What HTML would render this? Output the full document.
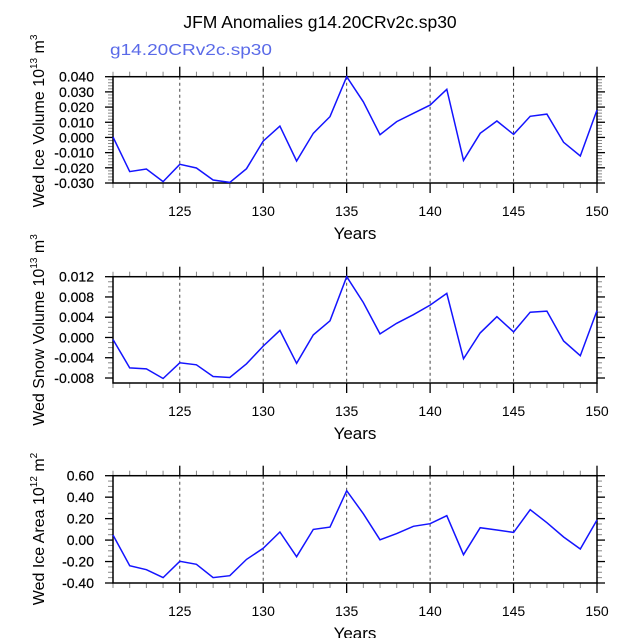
<!DOCTYPE html>
<html><head><meta charset="utf-8"><style>
html,body{margin:0;padding:0;background:#fff;}
svg{display:block;font-family:"Liberation Sans",sans-serif;}
</style></head><body>
<svg id="chart" width="638" height="638" viewBox="0 0 638 638">
<text x="320" y="28" font-size="17.5" text-anchor="middle">JFM Anomalies g14.20CRv2c.sp30</text>
<text x="110" y="55" font-size="16" fill="#5a6ae8" textLength="162" lengthAdjust="spacingAndGlyphs">g14.20CRv2c.sp30</text>
</svg>
<script>
const years = [121,122,123,124,125,126,127,128,129,130,131,132,133,134,135,136,137,138,139,140,141,142,143,144,145,146,147,148,149,150];
const iceVolume = [0.0003,-0.0225,-0.0208,-0.0291,-0.0177,-0.0201,-0.028,-0.0296,-0.0206,-0.0024,0.0075,-0.0155,0.0027,0.0137,0.040,0.0235,0.0018,0.0104,0.0159,0.0213,0.0317,-0.0151,0.0027,0.0108,0.002,0.0139,0.0154,-0.0032,-0.0122,0.0181];
const snowVolume = [-0.0004,-0.006,-0.0062,-0.0081,-0.005,-0.0054,-0.0077,-0.0079,-0.0052,-0.0017,0.0014,-0.0051,0.0005,0.0033,0.012,0.0069,0.0007,0.0028,0.0045,0.0064,0.0087,-0.0042,0.0009,0.0041,0.0011,0.005,0.0052,-0.0007,-0.0036,0.0053];
const iceArea = [0.047,-0.239,-0.276,-0.35,-0.198,-0.226,-0.35,-0.332,-0.18,-0.077,0.075,-0.155,0.1,0.121,0.46,0.246,0.003,0.06,0.128,0.153,0.227,-0.136,0.115,0.094,0.072,0.283,0.162,0.029,-0.083,0.187];
const xTicks = [125,130,135,140,145,150];
const iceTicks = [0.040,0.030,0.020,0.010,0.000,-0.010,-0.020,-0.030];
const snowTicks = [0.012,0.008,0.004,0.000,-0.004,-0.008];
const areaTicks = [0.60,0.40,0.20,0.00,-0.20,-0.40];

const NS='http://www.w3.org/2000/svg';
const svg=document.getElementById('chart');
function mk(tag,attrs,parent){const e=document.createElementNS(NS,tag);for(const k in attrs)e.setAttribute(k,attrs[k]);(parent||svg).appendChild(e);return e;}
const X0=113,X1=597,xmin=121,xmax=150;
function xs(v){return X0+(v-xmin)/(xmax-xmin)*(X1-X0);}

function panel(cfg){
  const g=mk('g',{});
  
  
  const ys=v=>cfg.yTop+(cfg.vmax-v)/(cfg.vmax-cfg.vmin)*(cfg.yBot-cfg.yTop);
  for(const t of xTicks){ if(t>=xmax) continue;
    const l=mk('line',{x1:xs(t),x2:xs(t),y1:cfg.boxTop,y2:cfg.boxBot,stroke:'#444','stroke-width':1,'stroke-dasharray':'3,3'},g);
    
    
  }
  for(let v=xmin;v<=xmax;v++){
    if(v%5===0) continue;
    mk('line',{x1:xs(v),x2:xs(v),y1:cfg.boxBot,y2:cfg.boxBot+5,stroke:'#888'},g);
    mk('line',{x1:xs(v),x2:xs(v),y1:cfg.boxTop,y2:cfg.boxTop-5,stroke:'#888'},g);
  }
  for(const t of xTicks){
    mk('line',{x1:xs(t),x2:xs(t),y1:cfg.boxBot,y2:cfg.boxBot+10,stroke:'#000','stroke-width':1.3},g);
    mk('line',{x1:xs(t),x2:xs(t),y1:cfg.boxTop,y2:cfg.boxTop-10,stroke:'#000','stroke-width':1.3},g);
    const tx=mk('text',{x:xs(t),y:cfg.boxBot+33,'font-size':14,'text-anchor':'middle'},g);
    tx.textContent=t;
    
    
  }
  const step=(cfg.yTicks[0]-cfg.yTicks[1])/cfg.minorN;
  for(let v=cfg.vmax;v>=cfg.vmin-1e-9;v-=step){
    const y=ys(v);
    if(y<cfg.boxTop-0.5||y>cfg.boxBot+0.5) continue;
    mk('line',{x1:X0,x2:X0-5,y1:y,y2:y,stroke:'#888'},g);
    mk('line',{x1:X1,x2:X1+5,y1:y,y2:y,stroke:'#888'},g);
  }
  for(const t of cfg.yTicks){
    const y=ys(t);
    mk('line',{x1:X0,x2:X0-8,y1:y,y2:y,stroke:'#000','stroke-width':1.3},g);
    mk('line',{x1:X1,x2:X1+8,y1:y,y2:y,stroke:'#000','stroke-width':1.3},g);
    const tx=mk('text',{x:94,y:y+5,'font-size':14,'text-anchor':'end',stroke:'#000','stroke-width':0.2},g);
    tx.textContent=t.toFixed(cfg.dec);
    
    
  }
  const box=mk('rect',{x:X0,y:cfg.boxTop,width:X1-X0,height:cfg.boxBot-cfg.boxTop,fill:'none',stroke:'#000','stroke-width':1.5},g);
  
  
  const pts=years.map((yr,i)=>xs(yr).toFixed(1)+','+ys(cfg.data[i]).toFixed(1)).join(' ');
  const pl=mk('polyline',{points:pts,fill:'none',stroke:'#1414ff','stroke-width':1.5},g);
  
  
  const xl=mk('text',{x:355,y:cfg.boxBot+56,'font-size':17,'text-anchor':'middle'},g);
  xl.textContent='Years';
  
  
  const yl=mk('text',{x:0,y:0,'font-size':16,'text-anchor':'middle',transform:'translate(44,'+cfg.titleY+') rotate(-90)'},g);
  yl.innerHTML=cfg.label+' 10<tspan dy="-7" font-size="10">'+cfg.exp+'</tspan><tspan dy="7"> m</tspan><tspan dy="-7" font-size="10">'+cfg.unitExp+'</tspan>';
  
  
}
panel({name:'ice-volume',data:iceVolume,yTicks:iceTicks,vmax:0.040,vmin:-0.030,yTop:76.7,yBot:183,boxTop:76.7,boxBot:183,minorN:5,dec:3,label:'Wed Ice Volume',exp:'13',unitExp:'3',titleY:121});
panel({name:'snow-volume',data:snowVolume,yTicks:snowTicks,vmax:0.012,vmin:-0.008,yTop:276.7,yBot:378,boxTop:276.7,boxBot:383,minorN:4,dec:3,label:'Wed Snow Volume',exp:'13',unitExp:'3',titleY:330});
panel({name:'ice-area',data:iceArea,yTicks:areaTicks,vmax:0.60,vmin:-0.40,yTop:475.7,yBot:583,boxTop:475.7,boxBot:583,minorN:4,dec:2,label:'Wed Ice Area',exp:'12',unitExp:'2',titleY:529});
</script>
</body></html>
